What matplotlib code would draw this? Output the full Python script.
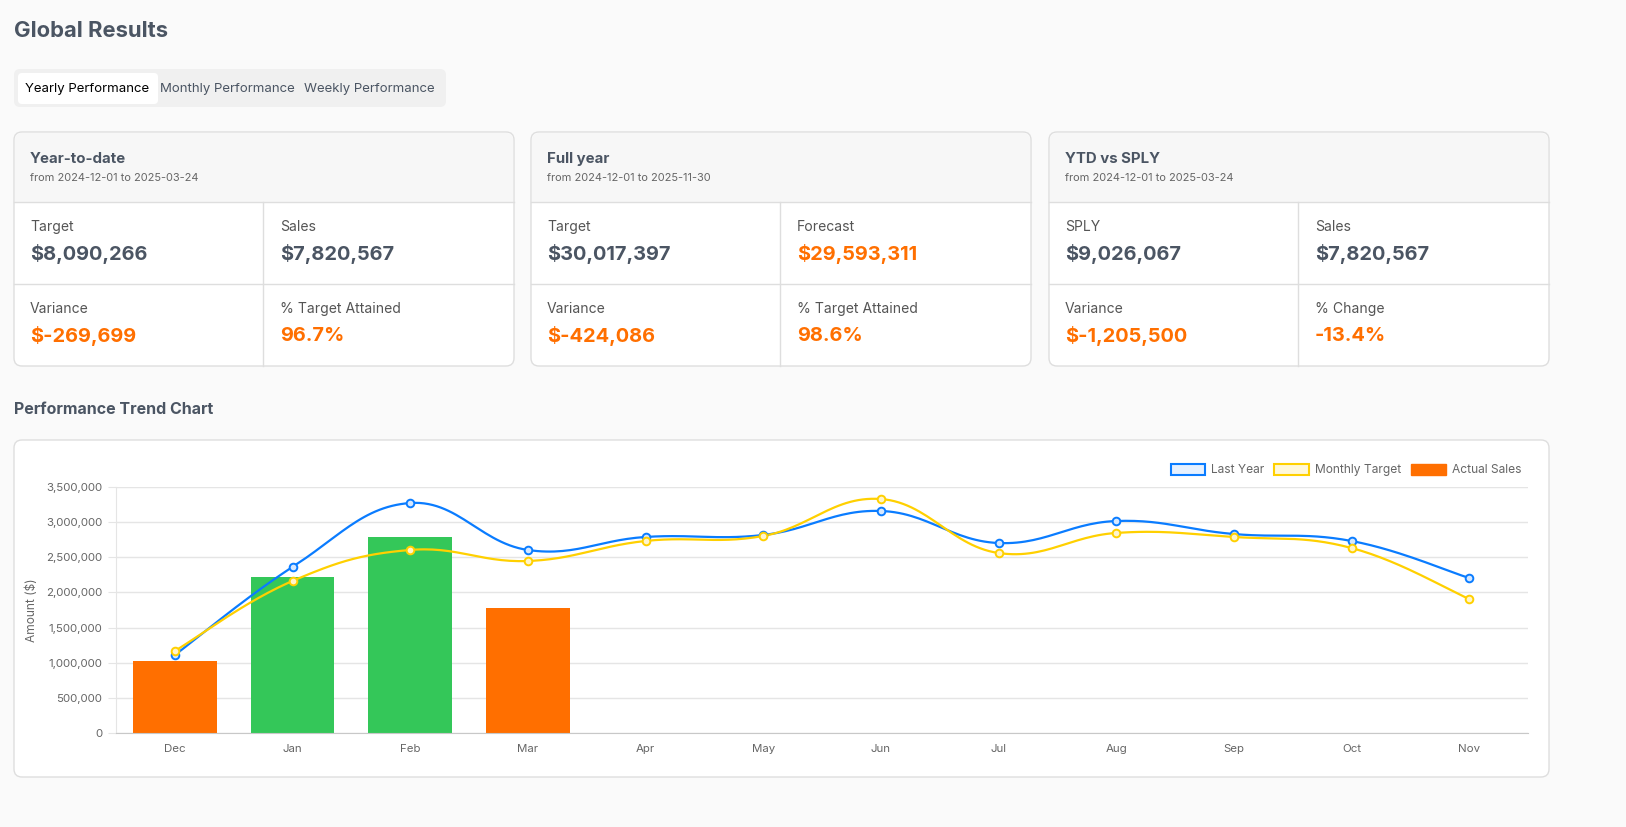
import numpy as np
import matplotlib.pyplot as plt
from matplotlib.patches import FancyBboxPatch, Rectangle, Patch
from matplotlib.lines import Line2D
from matplotlib.ticker import FuncFormatter

plt.rcParams['font.family'] = ['Inter', 'DejaVu Sans']

W, H = 1626, 827

months = ['Dec', 'Jan', 'Feb', 'Mar', 'Apr', 'May', 'Jun', 'Jul', 'Aug', 'Sep', 'Oct', 'Nov']
last_year = [1110000, 2362000, 3272000, 2604000, 2789000, 2817000, 3159000,
             2703000, 3016000, 2831000, 2732000, 2205000]
monthly_target = [1167000, 2163000, 2604000, 2447000, 2732000, 2803000, 3329000,
                  2561000, 2846000, 2789000, 2632000, 1907000]
actual_sales = [1024000, 2220000, 2789000, 1778000]

tabs = ['Yearly Performance', 'Monthly Performance', 'Weekly Performance']
card_titles = ['Year-to-date', 'Full year', 'YTD vs SPLY']
card_ranges = ['from 2024-12-01 to 2025-03-24', 'from 2024-12-01 to 2025-11-30',
               'from 2024-12-01 to 2025-03-24']
card_labels = [['Target', 'Sales', 'Variance', '% Target Attained'],
               ['Target', 'Forecast', 'Variance', '% Target Attained'],
               ['SPLY', 'Sales', 'Variance', '% Change']]
card_values = [['$8,090,266', '$7,820,567', '$-269,699', '96.7%'],
               ['$30,017,397', '$29,593,311', '$-424,086', '98.6%'],
               ['$9,026,067', '$7,820,567', '$-1,205,500', '-13.4%']]
card_orange = [[False, False, True, True],
               [False, True, True, True],
               [False, False, True, True]]

DARK = '#4b5563'
ORANGE = '#ff6f00'
GREEN = '#34c759'
BLUE = '#0a7cff'
YELLOW = '#ffd000'
BORDER = '#dedede'


def fx(x):
    return x / W


def fy(y):
    return 1 - y / H


def pt(px):
    return px * 0.72


def box(fig, x0, y0, x1, y1, fc, ec=BORDER, r=8, z=0):
    p = FancyBboxPatch((fx(x0), fy(y1)), fx(x1 - x0), (y1 - y0) / H,
                       boxstyle=f'round,pad=0,rounding_size={r / W}',
                       transform=fig.transFigure, fc=fc, ec=ec, lw=1, zorder=z,
                       mutation_aspect=W / H)
    fig.patches.append(p)


def line(fig, x0, y0, x1, y1):
    fig.add_artist(Line2D([fx(x0), fx(x1)], [fy(y0), fy(y1)], color=BORDER, lw=1,
                          transform=fig.transFigure))


def text(fig, x, y, s, size, color=DARK, weight='normal'):
    fig.text(fx(x), fy(y), s, fontsize=pt(size), color=color, weight=weight,
             va='center', ha='left')


def smooth(xs, ys, tension=0.4, n=30):
    # Chart.js style bezier interpolation
    xs = np.asarray(xs, float)
    ys = np.asarray(ys, float)
    outx, outy = [], []
    m = len(xs)
    for i in range(m - 1):
        p0 = (xs[max(i - 1, 0)], ys[max(i - 1, 0)])
        p1 = (xs[i], ys[i])
        p2 = (xs[i + 1], ys[i + 1])
        p3 = (xs[min(i + 2, m - 1)], ys[min(i + 2, m - 1)])
        c1 = (p1[0] + tension / 2 * (p2[0] - p0[0]), p1[1] + tension / 2 * (p2[1] - p0[1]))
        c2 = (p2[0] - tension / 2 * (p3[0] - p1[0]), p2[1] - tension / 2 * (p3[1] - p1[1]))
        t = np.linspace(0, 1, n)
        bx = (1 - t) ** 3 * p1[0] + 3 * (1 - t) ** 2 * t * c1[0] + 3 * (1 - t) * t ** 2 * c2[0] + t ** 3 * p2[0]
        by = (1 - t) ** 3 * p1[1] + 3 * (1 - t) ** 2 * t * c1[1] + 3 * (1 - t) * t ** 2 * c2[1] + t ** 3 * p2[1]
        outx.extend(bx)
        outy.extend(by)
    return outx, outy


fig = plt.figure(figsize=(W / 100, H / 100), dpi=100, facecolor='#fafafa')

# header and tabs
text(fig, 14, 31, 'Global Results', 22, weight='bold')
box(fig, 14, 69, 446, 107, '#f0f0f0', ec='none', r=6)
box(fig, 18, 73, 158, 104, 'white', ec='none', r=4, z=1)
for s, x, c in zip(tabs, [25, 160, 304], ['black', DARK, DARK]):
    text(fig, x, 89, s, 13.2, color=c)

# KPI cards
for k, x0 in enumerate([14, 531, 1049]):
    x1 = x0 + 500
    box(fig, x0, 132, x1, 366, 'white')
    box(fig, x0 + 1, 133, x1 - 1, 202, '#f7f7f7', ec='none', r=7, z=1)
    fig.patches.append(Rectangle((fx(x0 + 1), fy(202)), fx(498), 20 / H, fc='#f7f7f7',
                                 ec='none', transform=fig.transFigure, zorder=1))
    line(fig, x0, 202, x1, 202)
    line(fig, x0, 284, x1, 284)
    xm = x0 + 249
    line(fig, xm, 202, xm, 366)
    text(fig, x0 + 16, 159, card_titles[k], 15, weight='bold')
    text(fig, x0 + 16, 178, card_ranges[k], 11, color='#666666')
    for j in range(4):
        cx = x0 + 16 if j % 2 == 0 else xm + 17
        cy = 227 if j < 2 else 309
        text(fig, cx, cy, card_labels[k][j], 14, color='#555555')
        text(fig, cx, cy + 27, card_values[k][j], 20,
             color=ORANGE if card_orange[k][j] else DARK, weight='bold')

text(fig, 14, 410, 'Performance Trend Chart', 16, weight='bold')
box(fig, 14, 440, 1549, 777, 'white')

# chart
ax = fig.add_axes([fx(116), fy(733), fx(1528) - fx(116), 246 / H])
ax.set_zorder(5)
ax.set_facecolor('none')
x = np.arange(len(months))
bar_colors = [GREEN if a >= t else ORANGE for a, t in zip(actual_sales, monthly_target)]
ax.bar(x[:len(actual_sales)], actual_sales, width=0.71, color=bar_colors, zorder=2)
for data, col, fill in [(last_year, BLUE, '#d6e8ff'), (monthly_target, YELLOW, '#fff5cc')]:
    sx, sy = smooth(x, data)
    ax.plot(sx, sy, color=col, lw=1.6, zorder=3)
    ax.plot(x, data, 'o', ms=5.5, mfc=fill, mec=col, mew=1.4, zorder=4)

ax.set_xlim(-0.5, len(months) - 0.5)
ax.set_ylim(0, 3500000)
ax.set_yticks(np.arange(0, 3500001, 500000))
ax.yaxis.set_major_formatter(FuncFormatter(lambda v, p: f'{int(v):,}'))
ax.set_xticks(x)
ax.set_xticklabels(months)
ax.tick_params(colors='#666666', labelsize=pt(11.5), length=0, pad=8)
ax.tick_params(axis='y', length=6, color='#e5e5e5', pad=4)
ax.grid(axis='y', color='#e5e5e5', lw=1)
ax.set_axisbelow(True)
for s in ['top', 'right']:
    ax.spines[s].set_visible(False)
ax.spines['left'].set_color('#e5e5e5')
ax.spines['bottom'].set_color('#c8c8c8')
ax.set_ylabel('Amount ($)', color='#666666', fontsize=pt(12), labelpad=6)

handles = [Patch(fc='#e6f1ff', ec=BLUE, lw=1.5, label='Last Year'),
           Patch(fc='#fff8d9', ec=YELLOW, lw=1.5, label='Monthly Target'),
           Patch(fc=ORANGE, ec=ORANGE, label='Actual Sales')]
leg = fig.legend(handles=handles, loc='center right', bbox_to_anchor=(fx(1532), fy(470)),
                 ncol=3, frameon=False, fontsize=pt(12), handlelength=2.9, handleheight=1.0,
                 columnspacing=0.8, handletextpad=0.5, labelcolor='#666666')
leg.set_zorder(6)

fig.savefig('out.png', dpi=100, facecolor=fig.get_facecolor())
